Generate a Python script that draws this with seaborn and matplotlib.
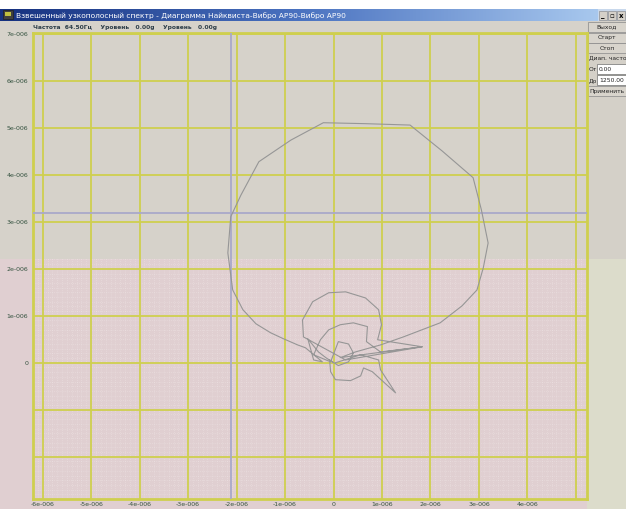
import numpy as np
import pandas as pd
import matplotlib
matplotlib.use("Agg")
import matplotlib.pyplot as plt
import seaborn as sns
from matplotlib.patches import Rectangle

# ---------------- data (units of 1e-6) ----------------
re_vals = [0.00, -0.16, -0.31, -0.53, -0.41, -0.23, -0.58, -0.74, -1.03, -1.30,
           -1.60, -1.87, -2.08, -2.18, -2.12, -1.91, -1.54, -0.88, -0.21, 0.66,
           1.58, 2.24, 2.88, 3.05, 3.19, 3.09, 2.96, 2.65, 2.20, 1.44,
           0.97, 0.45, 0.14, 1.83, 0.25, -0.62, -0.64, -0.43, -0.10, 0.25,
           0.66, 0.93, 0.99, 0.91, 1.83, 0.97, 0.68, 0.70, 0.41, 0.14,
           -0.10, -0.27, -0.41, -0.06, 0.10, 0.31, 0.41, 0.31, 0.10, -0.08,
           -0.06, 0.04, 0.35, 0.56, 0.62, 0.80, 1.28, 0.97, 0.93, 0.56, 0.04]
im_vals = [0.00, 0.11, 0.23, 0.51, 0.06, 0.02, 0.32, 0.38, 0.51, 0.64,
           0.83, 1.13, 1.55, 2.34, 3.11, 3.57, 4.28, 4.74, 5.11, 5.09,
           5.06, 4.51, 3.94, 3.26, 2.55, 2.02, 1.55, 1.21, 0.85, 0.55,
           0.38, 0.23, 0.11, 0.34, 0.06, 0.55, 0.91, 1.30, 1.49, 1.51,
           1.38, 1.13, 0.81, 0.49, 0.34, 0.23, 0.45, 0.77, 0.85, 0.81,
           0.70, 0.49, 0.17, 0.02, 0.45, 0.40, 0.21, 0.02, -0.06, 0.06,
           -0.19, -0.36, -0.38, -0.28, -0.11, -0.19, -0.64, -0.15, 0.06, 0.17, 0.00]

x_ticks = [-6, -5, -4, -3, -2, -1, 0, 1, 2, 3, 4, 5]
x_labels = ["-6e-006", "-5e-006", "-4e-006", "-3e-006", "-2e-006", "-1e-006",
            "0", "1e-006", "2e-006", "3e-006", "4e-006", ""]
y_ticks = [-2, -1, 0, 1, 2, 3, 4, 5, 6, 7]
y_labels = ["", "", "0", "1e-006", "2e-006", "3e-006", "4e-006", "5e-006", "6e-006", "7e-006"]

cursor_re = -2.12
cursor_im = 3.19

title = "Взвешенный узкополосный спектр - Диаграмма Найквиста-Вибро АР90-Вибро АР90"
status = "Частота  64.50Гц    Уровень   0.00g    Уровень   0.00g"
buttons = ["Выход", "Старт", "Стоп"]
range_label = "Диап. часто"
from_label, from_val = "От", "0.00"
to_label, to_val = "До", "1250.00"
apply_label = "Применить"

# ---------------- style ----------------
sns.set_theme(style="white")
plt.rcParams["font.family"] = ["DejaVu Sans"]

W, H = 626, 509
GRAY = "#d6d2ca"
PINK = "#e0cfd1"
PANEL = "#d4d0c8"
PANEL2 = "#dcdccb"
GRID = "#cfcf4e"
LABEL = "#34523f"

fig = plt.figure(figsize=(W / 100, H / 100), dpi=100)
fig.patch.set_facecolor("white")

bg = fig.add_axes([0, 0, 1, 1])
bg.set_xlim(0, W)
bg.set_ylim(H, 0)
bg.axis("off")
bg.set_zorder(0)

# backgrounds
bg.add_patch(Rectangle((0, 21), W, 238, color=GRAY, lw=0))
bg.add_patch(Rectangle((0, 259), 587, H - 259, color=PINK, lw=0))
bg.add_patch(Rectangle((587, 21), W - 587, 238, color=PANEL, lw=0))
bg.add_patch(Rectangle((587, 259), W - 587, H - 259, color=PANEL2, lw=0))

# title bar gradient
grad = np.linspace(0, 1, 256)[None, :]
cmap = matplotlib.colors.LinearSegmentedColormap.from_list(
    "tb", ["#16317f", "#4a72c0", "#a8c8ee"])
bg.imshow(grad, cmap=cmap, extent=(0, 598, 21, 9), aspect="auto", zorder=1)
bg.add_patch(Rectangle((598, 9), W - 598, 12, color="#c8d8ec", lw=0, zorder=1))
bg.set_xlim(0, W)
bg.set_ylim(H, 0)
# icon
bg.add_patch(Rectangle((3, 10), 10, 9, facecolor="#404040", edgecolor="#202020", lw=0.5, zorder=2))
bg.add_patch(Rectangle((5, 12), 6, 4, facecolor="#c0c040", lw=0, zorder=3))
bg.text(16, 15.5, title, color="white", fontsize=5.4, va="center", ha="left", zorder=3)
# window buttons
for i, s in enumerate(["_", "▫", "x"]):
    x0 = 599 + i * 9
    bg.add_patch(Rectangle((x0, 11), 8, 9, facecolor="#d4d0c8", edgecolor="#808080", lw=0.4, zorder=2))
    bg.text(x0 + 4, 15.5, s, fontsize=5, ha="center", va="center", weight="bold", color="black", zorder=3)

# status row
bg.text(33, 27.5, status, fontsize=4.3, weight="bold", color="#2f3f4a", va="center", ha="left")

# right panel controls
def button(y0, label, h=10):
    bg.add_patch(Rectangle((588, y0), 40, h, facecolor="#d8d4cc", edgecolor="#888888", lw=0.5, zorder=2))
    bg.text(607, y0 + h / 2, label, fontsize=4.3, ha="center", va="center", color="#222222", zorder=3)

for k, b in enumerate(buttons):
    button(22 + k * 10.5, b)
bg.text(589, 58, range_label, fontsize=4.3, ha="left", va="center", color="#222222")
bg.text(589, 69.5, from_label, fontsize=4.3, ha="left", va="center", color="#222222")
bg.add_patch(Rectangle((597, 64), 32, 10, facecolor="white", edgecolor="#707070", lw=0.5, zorder=2))
bg.text(599, 69.5, from_val, fontsize=4.3, ha="left", va="center", color="#222222", zorder=3)
bg.text(589, 80.5, to_label, fontsize=4.3, ha="left", va="center", color="#222222")
bg.add_patch(Rectangle((597, 75), 32, 10, facecolor="white", edgecolor="#707070", lw=0.5, zorder=2))
bg.text(599, 80.5, to_val, fontsize=4.3, ha="left", va="center", color="#222222", zorder=3)
button(86, apply_label)

# ---------------- main plot ----------------
ax = fig.add_axes([33 / W, 1 - 499 / H, (587 - 33) / W, (499 - 33) / H])
ax.set_zorder(1)
ax.set_facecolor(PINK)
ax.set_xlim(-6.17, 5.23)
ax.set_ylim(-2.89, 7.02)

# fine dotted texture (lower region only; upper covered by grey band)
ax.set_xticks(np.arange(-6.2, 5.3, 0.1), minor=True)
ax.set_yticks(np.arange(-2.9, 7.1, 0.1), minor=True)
ax.set_axisbelow(True)
ax.axhspan(2.21, 7.1, color=GRAY, lw=0, zorder=1)

for xv in x_ticks:
    ax.axvline(xv, color=GRID, lw=1.3, zorder=2)
for yv in y_ticks:
    ax.axhline(yv, color=GRID, lw=1.3, zorder=2)

ax.axvline(cursor_re, color="#a9a9c9", lw=1.3, zorder=3)
ax.axhline(cursor_im, color="#a9a9c9", lw=1.3, zorder=3)

df = pd.DataFrame({"re": re_vals, "im": im_vals})
sns.lineplot(data=df, x="re", y="im", sort=False, estimator=None,
             color="#969696", lw=0.8, ax=ax, zorder=4)

ax.set_xticks(x_ticks)
ax.set_xticklabels(x_labels)
ax.set_yticks(y_ticks)
ax.set_yticklabels(y_labels)
ax.tick_params(axis="both", which="both", length=0, labelsize=4.5, colors=LABEL)
ax.tick_params(axis="x", pad=2)
ax.tick_params(axis="y", pad=3.5)
ax.set_xlabel("")
ax.set_ylabel("")
for sp in ax.spines.values():
    sp.set_color(GRID)
    sp.set_linewidth(2)
    sp.set_visible(True)
ax.grid(which="major", visible=False)
ax.grid(which="minor", color="white", lw=0.5, ls=(0, (1, 2)), alpha=0.35)

fig.savefig("out.png", dpi=100)
